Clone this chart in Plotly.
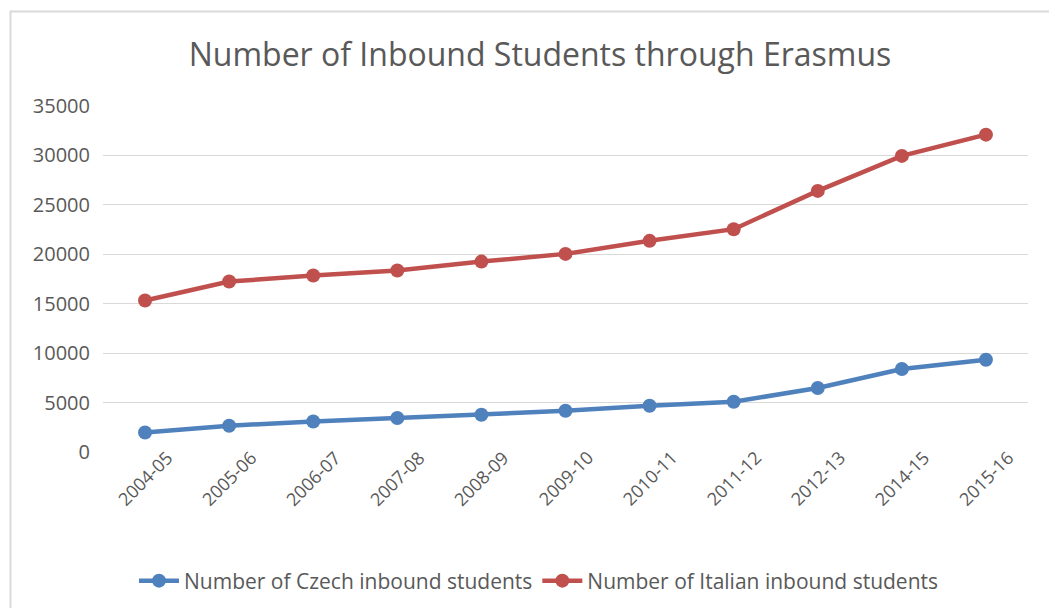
import plotly.graph_objects as go

years = ["2004-05", "2005-06", "2006-07", "2007-08", "2008-09", "2009-10",
         "2010-11", "2011-12", "2012-13", "2014-15", "2015-16"]
czech = [1980, 2660, 3090, 3440, 3770, 4170, 4680, 5080, 6470, 8390, 9330]
italian = [15320, 17240, 17850, 18360, 19260, 20040, 21360, 22540, 26410, 29950, 32100]
y_ticks = [0, 5000, 10000, 15000, 20000, 25000, 30000, 35000]
y_labels = [str(v) for v in y_ticks]

OFF = 8  # default page body margin
W, H = 1057 - OFF, 608 - OFF
# plot area in screen pixels
L, R, T, B = 103, 1028, 106, 452
pw, ph = R - L, B - T

def px(x):
    return (x - L) / pw

def py(y):
    return (B - y) / ph

FONT = "Open Sans"
TXT = "#595959"

fig = go.Figure()
fig.add_trace(go.Scatter(x=years, y=czech, mode="lines+markers",
                         name="Number of Czech inbound students",
                         line=dict(color="#4F81BD", width=4.5),
                         marker=dict(color="#4F81BD", size=14)))
fig.add_trace(go.Scatter(x=years, y=italian, mode="lines+markers",
                         name="Number of Italian inbound students",
                         line=dict(color="#C0504D", width=4.5),
                         marker=dict(color="#C0504D", size=14)))

annotations = [dict(x=c, xref="x", y=py(478), yref="paper", text=c,
                    showarrow=False, textangle=-45, xanchor="center",
                    yanchor="middle", font=dict(family=FONT, size=18, color=TXT))
               for c in years]

fig.update_layout(
    width=W, height=H,
    margin=dict(l=L - OFF, r=(1057 - R), t=T - OFF, b=608 - B, pad=0,
                autoexpand=False),
    paper_bgcolor="white", plot_bgcolor="white",
    font=dict(family=FONT, color=TXT, size=20),
    title=dict(text="Number of Inbound Students through Erasmus",
               x=px(540), xref="paper", xanchor="center",
               y=1 - (55 - OFF) / H, yref="container", yanchor="middle",
               font=dict(family=FONT, size=32, color=TXT)),
    xaxis=dict(type="category", range=[-0.5, 10.5], showgrid=False,
               showline=False, zeroline=False, ticks="", showticklabels=False),
    yaxis=dict(range=[0, 35000], tickvals=y_ticks, ticktext=y_labels,
               showgrid=True, gridcolor="#D9D9D9", gridwidth=1, zeroline=False,
               showline=False, ticks="", ticklabelstandoff=12,
               tickfont=dict(size=20, color=TXT)),
    showlegend=True,
    legend=dict(orientation="h", x=px(539), xanchor="center",
                y=py(581), yanchor="middle",
                font=dict(size=21, color=TXT), itemwidth=40,
                traceorder="normal"),
    annotations=annotations,
    shapes=[dict(type="rect", xref="paper", yref="paper",
                 x0=px(10.5), x1=px(1075), y0=py(630), y1=py(11.5),
                 line=dict(color="#D9D9D9", width=2), layer="below")],
)

fig.write_html("out.html")
